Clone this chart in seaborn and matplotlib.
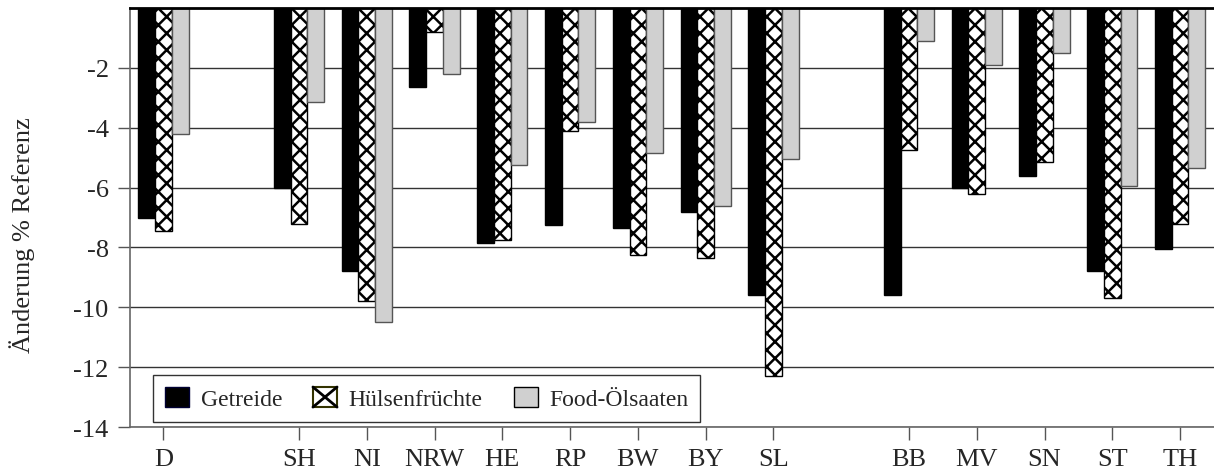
import seaborn as sns
import matplotlib.pyplot as plt
import pandas as pd
from matplotlib.patches import Patch, Rectangle
from matplotlib.lines import Line2D
from matplotlib.legend_handler import HandlerBase

# Werte je Bundesland (Änderung in % gegenüber Referenz)
laender = ["D", "SH", "NI", "NRW", "HE", "RP", "BW", "BY", "SL", "BB", "MV", "SN", "ST", "TH"]
getreide = [-7.0, -6.0, -8.8, -2.65, -7.85, -7.25, -7.35, -6.8, -9.6, -9.6, -6.0, -5.6, -8.8, -8.05]
huelsen = [-7.45, -7.2, -9.8, -0.8, -7.75, -4.1, -8.25, -8.35, -12.3, -4.75, -6.2, -5.15, -9.7, -7.2]
oelsaaten = [-4.2, -3.15, -10.5, -2.2, -5.25, -3.8, -4.85, -6.6, -5.05, -1.1, -1.9, -1.5, -5.95, -5.35]
serien = ["Getreide", "Hülsenfrüchte", "Food-Ölsaaten"]
y_ticks = [-14, -12, -10, -8, -6, -4, -2]

# Reihenfolge auf der x-Achse, mit zwei leeren Plätzen als Abstand
reihenfolge = ["D", "_gap1"] + laender[1:9] + ["_gap2"] + laender[9:]

df = pd.DataFrame({
    "Land": laender * 3,
    "Wert": getreide + huelsen + oelsaaten,
    "Serie": [s for s in serien for _ in laender],
})


# Legendensymbol mit einem einzelnen Kreuz (wie im Original)
class KreuzHandler(HandlerBase):
    def create_artists(self, legend, orig_handle, xdescent, ydescent,
                       width, height, fontsize, trans):
        x0, y0 = -xdescent, -ydescent
        rect = Rectangle((x0, y0), width, height, facecolor="white",
                         edgecolor="#333300", linewidth=1.5, transform=trans)
        l1 = Line2D([x0, x0 + width], [y0, y0 + height], color="black",
                    linewidth=2, transform=trans)
        l2 = Line2D([x0, x0 + width], [y0 + height, y0], color="black",
                    linewidth=2, transform=trans)
        return [rect, l1, l2]


sns.set_theme(style="white")
plt.rcParams['font.family'] = ['Liberation Serif', 'DejaVu Serif']
plt.rcParams['axes.unicode_minus'] = False
plt.rcParams['hatch.linewidth'] = 1.8

fig, ax = plt.subplots(figsize=(12.14, 4.77), dpi=100)
fig.subplots_adjust(left=0.1067, right=1.0, top=0.981, bottom=0.1027)

farben = ["black", "white", "#d0d0d0"]
sns.barplot(data=df, x="Land", y="Wert", hue="Serie", order=reihenfolge,
            hue_order=serien, palette=farben, saturation=1, width=0.74,
            linewidth=1, legend=False, ax=ax)

# Kanten und Schraffur je Serie
kanten = ["black", "black", "#555555"]
muster = [None, "xx", None]
for cont, k, m in zip(ax.containers, kanten, muster):
    for b in cont:
        b.set_edgecolor(k)
        if m:
            b.set_hatch(m)

ax.set_ylim(-14, 0)
ax.set_yticks(y_ticks, [str(t) for t in y_ticks])
ax.set_xticks([reihenfolge.index(l) for l in laender], laender)
ax.set_xlabel("")
ax.set_ylabel("Änderung % Referenz", fontsize=19)
ax.yaxis.set_label_coords(-0.087, 0.46)

ax.set_axisbelow(True)
ax.yaxis.grid(True, color="#333333", linewidth=1)
ax.tick_params(axis="both", labelsize=19, length=9, width=1, color="#555555",
               pad=6, bottom=True, left=True, direction="out")

ax.spines["top"].set_color("black")
ax.spines["top"].set_linewidth(2)
ax.spines["right"].set_visible(False)
for s in ["left", "bottom"]:
    ax.spines[s].set_color("#666666")
    ax.spines[s].set_linewidth(1.2)

handles = [
    Patch(facecolor="black", edgecolor="#000033"),
    Patch(facecolor="white", edgecolor="#333300"),
    Patch(facecolor="#d0d0d0", edgecolor="black"),
]
leg = ax.legend(handles, serien, ncol=3, loc="lower left",
                bbox_to_anchor=(0.0217, 0.012), fontsize=17, frameon=True,
                fancybox=False, edgecolor="#333333", framealpha=1,
                handlelength=1.02, handleheight=0.93, handletextpad=0.5,
                columnspacing=1.3, borderpad=0.5, borderaxespad=0,
                handler_map={handles[1]: KreuzHandler()})
leg.get_frame().set_linewidth(1)

plt.savefig("out.png", dpi=100)
